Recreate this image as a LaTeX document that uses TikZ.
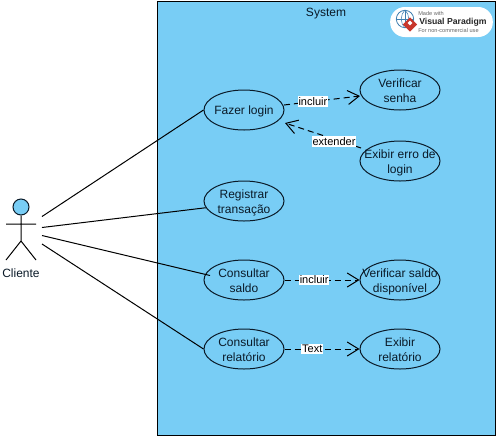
\documentclass[tikz,border=0pt]{standalone}
\usepackage{fontspec}
\setmainfont{Liberation Sans}
\usetikzlibrary{arrows.meta,shapes.geometric}
\definecolor{skyfill}{HTML}{78CDF5}
\definecolor{inkc}{HTML}{0A1A28}
\definecolor{vpred}{HTML}{C8362B}
\definecolor{vpblue}{HTML}{3F7FB0}
\newcommand\uct[1]{\smash{\makebox[0pt]{\raisebox{-0.42em}{\begin{tabular}{@{}c@{}}#1\end{tabular}}}}}
\tikzset{
  x=0.75pt,y=-0.75pt,
  uc/.style={draw=inkc,line width=0.75pt,ellipse,minimum width=60pt,minimum height=30pt,inner sep=0pt,font=\fontsize{9}{11}\selectfont,text=inkc},
  assoc/.style={draw=black,line width=0.75pt},
  dep/.style={draw=black,line width=0.75pt,dash pattern=on 4.5pt off 3pt,-{Straight Barb[length=8.5pt,width=10.5pt,line width=0.75pt]}},
  lbl/.style={fill=white,inner xsep=0.5pt,inner ysep=1pt,font=\fontsize{8.25}{10}\selectfont,text=black},
  stick/.style={draw=black,line width=0.75pt}
}
\begin{document}
\begin{tikzpicture}
\useasboundingbox (0,0) rectangle (497,437);
\fill[white] (0,0) rectangle (497,437);
\node[draw=black,fill=skyfill,line width=0.75pt,minimum width=253.8pt,minimum height=326pt,inner sep=0pt,anchor=north west] (sys) at (157,0.5) {};
\node[font=\fontsize{9}{11}\selectfont,text=inkc] (systitle) at (326,14) {System};
% logo
\node[fill=white,rounded corners=11pt,minimum width=77pt,minimum height=22.5pt,inner sep=0pt] (badge) at (441.5,22) {};
\node[draw=vpblue,fill=white,line width=0.6pt,circle,minimum size=13pt,inner sep=0pt] (globe) at (405,19) {};
\draw[vpblue,line width=0.4pt] (globe.west) -- (globe.east) (globe.north) -- (globe.south);
\draw[vpblue,line width=0.4pt] (globe.north) to[bend right=45] (globe.south);
\draw[vpblue,line width=0.4pt] (globe.north) to[bend left=45] (globe.south);
\node[fill=vpred,rotate=45,minimum size=7.5pt,inner sep=0pt] (vpmark) at (410,24.5) {};
\node[fill=white,rotate=45,minimum size=2.5pt,inner sep=0pt] (vpdot) at (410,23) {};
\node[font=\fontsize{4.2}{5}\selectfont,text=black!60,anchor=west,inner sep=0pt] (vpa) at (418,13) {Made with};
\node[font=\fontsize{6.5}{8}\selectfont\bfseries,text=black!85,anchor=west,inner sep=0pt] (vpb) at (419,22) {Visual Paradigm};
\node[font=\fontsize{4.2}{5}\selectfont,text=black!60,anchor=west,inner sep=0pt] (vpc) at (418,30.5) {For non-commercial use};
% use cases
\node[uc] (login) at (244,110) {\uct{Fazer login}};
\node[uc] (senha) at (400,90) {\uct{Verificar\\senha}};
\node[uc] (erro) at (400,161) {\uct{Exibir erro de\\login}};
\node[uc] (reg) at (244,201) {\uct{Registrar\\transação}};
\node[uc] (saldo) at (244,280) {\uct{Consultar\\saldo}};
\node[uc] (disp) at (400,280) {\uct{Verificar saldo\\disponível}};
\node[uc] (rel) at (244,349) {\uct{Consultar\\relatório}};
\node[uc] (exib) at (400,349) {\uct{Exibir\\relatório}};
% actor
\node[draw=inkc,fill=skyfill,line width=0.75pt,circle,minimum size=12pt,inner sep=0pt] (head) at (21,207) {};
\coordinate (hip) at (21,241);
\coordinate (handl) at (6,224);
\coordinate (handr) at (36,224);
\coordinate (footl) at (6,260);
\coordinate (footr) at (36,260);
\draw[stick] (head) -- (hip) (handl) -- (handr) (footl) -- (hip) -- (footr);
\node[font=\fontsize{9}{11}\selectfont,text=inkc] (cliente) at (21,273) {Cliente};
\coordinate (c1) at (42,216.5);
\coordinate (c2) at (42,227.5);
\coordinate (c3) at (42,235.5);
\coordinate (c4) at (42,244);
\coordinate (saldoin) at ([shift={(-34,-4.5)}]saldo.center);
\draw[assoc] (c1) -- (login.west);
\draw[assoc] (c2) -- (reg.190);
\draw[assoc] (c3) -- (saldoin);
\draw[assoc] (c4) -- (rel.west);
% dependencies
\coordinate (loginout) at ([shift={(40,-5)}]login.center);
\coordinate (senhain) at ([shift={(-40,6)}]senha.center);
\coordinate (errout) at ([shift={(-39,-13)}]erro.center);
\coordinate (logintip) at ([shift={(41,13)}]login.center);
\draw[dep] (loginout) -- node[lbl,pos=0.38] {incluir} (senhain);
\draw[dep] (errout) -- node[lbl,pos=0.355,yshift=-2pt] {extender} (logintip);
\draw[dep] (saldo.east) -- node[lbl,pos=0.395] {incluir} (disp.west);
\draw[dep] (rel.east) -- node[lbl,pos=0.37] {Text} (exib.west);
\end{tikzpicture}
\end{document}
